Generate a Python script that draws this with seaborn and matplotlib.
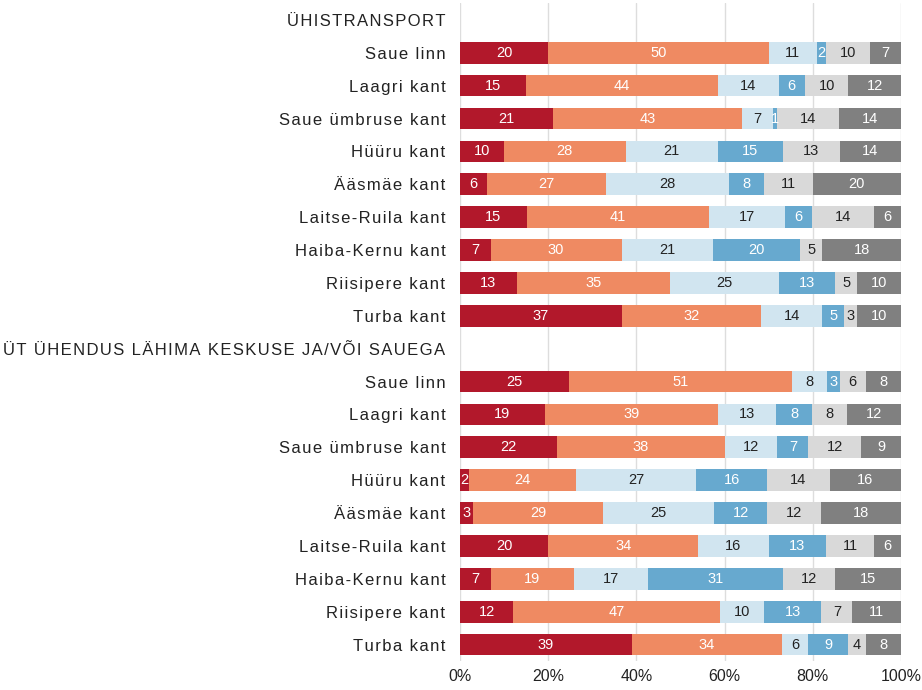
import numpy as np
import pandas as pd
import seaborn as sns
import matplotlib.pyplot as plt

# categories, top to bottom
areas = ['Saue linn', 'Laagri kant', 'Saue ümbruse kant', 'Hüüru kant', 'Ääsmäe kant',
         'Laitse-Ruila kant', 'Haiba-Kernu kant', 'Riisipere kant', 'Turba kant']
header1 = 'ÜHISTRANSPORT'
header2 = 'ÜT ÜHENDUS LÄHIMA KESKUSE JA/VÕI SAUEGA'

# six answer levels per row (percent)
transport = [
    [20, 50, 11, 2, 10, 7],
    [15, 44, 14, 6, 10, 12],
    [21, 43, 7, 1, 14, 14],
    [10, 28, 21, 15, 13, 14],
    [6, 27, 28, 8, 11, 20],
    [15, 41, 17, 6, 14, 6],
    [7, 30, 21, 20, 5, 18],
    [13, 35, 25, 13, 5, 10],
    [37, 32, 14, 5, 3, 10],
]
connection = [
    [25, 51, 8, 3, 6, 8],
    [19, 39, 13, 8, 8, 12],
    [22, 38, 12, 7, 12, 9],
    [2, 24, 27, 16, 14, 16],
    [3, 29, 25, 12, 12, 18],
    [20, 34, 16, 13, 11, 6],
    [7, 19, 17, 31, 12, 15],
    [12, 47, 10, 13, 7, 11],
    [39, 34, 6, 9, 4, 8],
]

colors = ['#B2182B', '#EF8A62', '#D1E5F0', '#67A9CF', '#D9D9D9', '#808080']
text_colors = ['white', 'white', '#222222', 'white', '#222222', 'white']

# build table: header rows get no bar
labels = [header1] + areas + [header2] + areas
values = [[0] * 6] + transport + [[0] * 6] + connection
keys = [f'r{i:02d}' for i in range(len(labels))]
df = pd.DataFrame(values, columns=[f's{j}' for j in range(6)])
cum = df.cumsum(axis=1)
tot = cum['s5'].replace(0, 1)
cum_pct = cum.div(tot, axis=0) * 100
cum_pct['key'] = keys

sns.set_style('white')
plt.rcParams['font.family'] = ['Liberation Sans', 'DejaVu Sans']

fig = plt.figure(figsize=(9.22, 6.9), dpi=100)
ax = fig.add_axes([0.499, 0.042, 0.478, 0.953])

# draw cumulative bars from the largest down so they stack visually
for j in reversed(range(6)):
    sns.barplot(data=cum_pct, x=f's{j}', y='key', order=keys, orient='h',
                color=colors[j], saturation=1, width=0.66, linewidth=0,
                ax=ax, zorder=2)

# segment labels
for i, row in enumerate(values):
    total = sum(row)
    if total == 0:
        continue
    left = 0
    for j, v in enumerate(row):
        w = v / total * 100
        ax.text(left + w / 2, i, str(v), ha='center', va='center',
                fontsize=10.5, color=text_colors[j], zorder=3)
        left += w

# spaced-out row labels (hair space between letters)
spaced = ['\u200a'.join(lab) for lab in labels]

ax.set_xlim(0, 100)
ax.set_ylim(len(labels) - 0.5, -0.5)
ax.set_xticks([0, 20, 40, 60, 80, 100])
ax.set_xticklabels([f'{t}%' for t in [0, 20, 40, 60, 80, 100]], fontsize=11.5, color='#222222')
ax.set_yticks(range(len(labels)))
ax.set_yticklabels(spaced, fontsize=12, color='#222222')
ax.set_xlabel('')
ax.set_ylabel('')
ax.tick_params(axis='y', length=0, pad=10.5)
ax.tick_params(axis='x', length=0, pad=6)
ax.xaxis.grid(True, color='#DDDDDD', linewidth=1, zorder=0)
ax.set_axisbelow(True)
for s in ax.spines.values():
    s.set_visible(False)

fig.savefig('out.png', dpi=100)
